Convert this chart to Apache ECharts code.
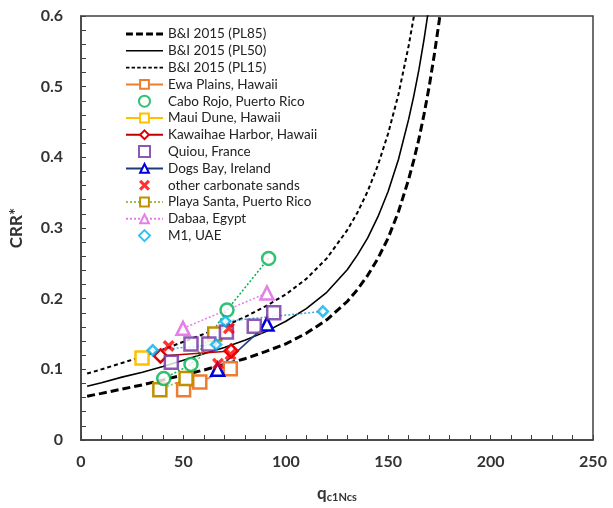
<!DOCTYPE html>
<html>
<head>
<meta charset="utf-8">
<style>
  html, body { margin: 0; padding: 0; background: #fff; }
  #chart { width: 613px; height: 508px; }
</style>
<script src="https://cdn.jsdelivr.net/npm/echarts@6/dist/echarts.min.js"></script>
</head>
<body>
<div id="chart"></div>
<script>
// Boulanger & Idriss (2015) triggering curves, CRR* versus qc1Ncs
const curveQ = [3, 10, 20, 30, 40, 50, 60, 70, 80, 90, 100, 110, 120, 130, 135, 140, 145, 150, 155, 160, 162.5, 165, 167.5, 170, 172.5, 175, 180];
const pl85 = [0.062, 0.066, 0.072, 0.078, 0.085, 0.092, 0.099, 0.107, 0.115, 0.125, 0.136, 0.151, 0.170, 0.196, 0.213, 0.233, 0.257, 0.286, 0.323, 0.369, 0.396, 0.426, 0.461, 0.500, 0.545, 0.595, 0.721];
const pl50 = [0.076, 0.081, 0.089, 0.096, 0.104, 0.113, 0.122, 0.131, 0.141, 0.153, 0.168, 0.186, 0.209, 0.241, 0.262, 0.286, 0.316, 0.352, 0.397, 0.454, 0.487, 0.524, 0.567, 0.615, 0.670, 0.732, 0.887];
const pl15 = [0.094, 0.100, 0.109, 0.118, 0.128, 0.139, 0.150, 0.161, 0.174, 0.189, 0.206, 0.228, 0.257, 0.297, 0.322, 0.352, 0.389, 0.434, 0.489, 0.558, 0.599, 0.645, 0.698, 0.757, 0.824, 0.901, 1.091];

// Test results by site
const ewaQ = [50.1, 58.0, 72.9];
const ewaCRR = [0.071, 0.082, 0.101];
const caboQ = [40.4, 53.7, 71.3, 91.6];
const caboCRR = [0.087, 0.107, 0.184, 0.257];
const mauiQ = [29.8];
const mauiCRR = [0.116];
const kawQ = [38.8, 73.3];
const kawCRR = [0.119, 0.126];
const quiouQ = [44.1, 53.7, 62.4, 71.0, 84.6, 94.1];
const quiouCRR = [0.110, 0.136, 0.136, 0.153, 0.161, 0.180];
const dogsQ = [66.7, 90.8];
const dogsCRR = [0.100, 0.164];
const otherQ = [42.8, 72.2, 66.9, 73.0];
const otherCRR = [0.133, 0.158, 0.108, 0.121];
const playaQ = [38.5, 51.3, 65.3];
const playaCRR = [0.071, 0.087, 0.150];
const dabaaQ = [49.8, 90.8];
const dabaaCRR = [0.158, 0.208];
const m1Q = [35.0, 66.0, 70.5, 118.1];
const m1CRR = [0.127, 0.135, 0.168, 0.182];

// Axis ticks
const xTicks = [0, 50, 100, 150, 200, 250];
const yTicks = [0, 0.1, 0.2, 0.3, 0.4, 0.5, 0.6];

const pairs = (xs, ys) => xs.map((x, i) => [x, ys[i]]);

const FONT = 'Lato';
const crossPath = 'path://M2,0 L5,3 L8,0 L10,2 L7,5 L10,8 L8,10 L5,7 L2,10 L0,8 L3,5 L0,2 Z';

// legend glyphs: dashed strokes drawn as strips of small bars
function dashIcon(dash, gap, thick, count) {
  let d = '';
  for (let i = 0; i < count; i++) {
    const x = i * (dash + gap);
    d += `M${x},0h${dash}v${thick}h${-dash}Z`;
  }
  return 'path://' + d;
}
const iconPL85 = dashIcon(7, 3.2, 3, 4);
const iconPL50 = 'path://M0,0h39v1.6h-39Z';
const iconPL15 = dashIcon(3.6, 2.2, 2, 7);
const iconSquare = 'path://M0,0h10v10h-10Z';
const iconDiamond = 'path://M5,0L10,5L5,10L0,5Z';

function curve(name, ys, width, dash) {
  return {
    name, type: 'line', data: pairs(curveQ, ys), symbol: 'none', clip: true,
    lineStyle: { color: '#000', width, type: dash },
    itemStyle: { color: '#000' }, z: 2, silent: true
  };
}

function siteLine(name, xs, ys, color, symbol, size, lineType, lineColor) {
  return {
    name, type: 'line', data: pairs(xs, ys), symbol, symbolSize: size,
    showAllSymbol: true,
    lineStyle: { color: lineColor || color, width: 1.5, type: lineType },
    itemStyle: { color: '#fff', borderColor: color, borderWidth: 2.5 },
    z: 5
  };
}

function siteMarks(name, xs, ys, color, symbol, size, filled) {
  return {
    name, type: 'scatter', data: pairs(xs, ys), symbol, symbolSize: size,
    itemStyle: filled ? { color } : { color: '#fff', borderColor: color, borderWidth: 2.5 },
    z: 6
  };
}

function trend(xs, ys, color) {
  return {
    name: '_trend', type: 'line', data: pairs(xs, ys), symbol: 'none',
    lineStyle: { color, width: 1.5, type: [2, 2] }, z: 4, silent: true
  };
}

const chart = echarts.init(document.getElementById('chart'), null, { renderer: 'canvas' });
chart.setOption({
  animation: false,
  textStyle: { fontFamily: FONT },
  grid: {
    left: 80, right: 20, top: 16, bottom: 68,
    show: true, borderColor: '#404040', borderWidth: 1.5, backgroundColor: 'transparent'
  },
  legend: {
    orient: 'vertical', left: 120, top: 22,
    itemWidth: 37, itemHeight: 11, itemGap: 2.8,
    symbolKeepAspect: true,
    textStyle: { fontFamily: FONT, fontSize: 13.5, lineHeight: 13, color: '#222' },
    data: [
      { name: 'B&I 2015 (PL85)', icon: iconPL85 },
      { name: 'B&I 2015 (PL50)', icon: iconPL50 },
      { name: 'B&I 2015 (PL15)', icon: iconPL15 },
      'Ewa Plains, Hawaii',
      { name: 'Cabo Rojo, Puerto Rico', icon: 'circle' },
      'Maui Dune, Hawaii',
      'Kawaihae Harbor, Hawaii',
      { name: 'Quiou, France', icon: iconSquare },
      'Dogs Bay, Ireland',
      { name: 'other carbonate sands', icon: crossPath },
      'Playa Santa, Puerto Rico', 'Dabaa, Egypt',
      { name: 'M1, UAE', icon: iconDiamond }
    ]
  },
  xAxis: {
    type: 'value', min: xTicks[0], max: xTicks[xTicks.length - 1], interval: 50,
    name: '{q|q}{s|c1Ncs}', nameLocation: 'middle', nameGap: 44,
    nameTextStyle: {
      rich: {
        q: { fontFamily: FONT, fontSize: 17, fontWeight: 'bold', color: '#333' },
        s: { fontFamily: FONT, fontSize: 11, fontWeight: 'bold', color: '#333', padding: [8, 0, 0, 0] }
      }
    },
    axisLine: { lineStyle: { color: '#404040', width: 1.5 } },
    axisTick: { inside: true, length: 5, lineStyle: { color: '#404040' } },
    minorTick: { show: true, splitNumber: 5, length: 5, lineStyle: { color: '#404040' } },
    axisLabel: { margin: 14, fontFamily: FONT, fontSize: 16, fontWeight: 'bold', color: '#333' },
    splitLine: { show: false }
  },
  yAxis: {
    type: 'value', min: yTicks[0], max: yTicks[yTicks.length - 1], interval: 0.1,
    name: 'CRR*', nameLocation: 'middle', nameGap: 56,
    nameTextStyle: { fontFamily: FONT, fontSize: 17, fontWeight: 'bold', color: '#333' },
    axisLine: { lineStyle: { color: '#404040', width: 1.5 } },
    axisTick: { inside: true, length: 5, lineStyle: { color: '#404040' } },
    minorTick: { show: true, splitNumber: 5, length: 5, lineStyle: { color: '#404040' } },
    axisLabel: {
      margin: 18, fontFamily: FONT, fontSize: 16, fontWeight: 'bold', color: '#333',
      formatter: v => (v === 0 ? '0' : v.toFixed(1))
    },
    splitLine: { show: false }
  },
  series: [
    curve('B&I 2015 (PL85)', pl85, 3, [8, 4]),
    curve('B&I 2015 (PL50)', pl50, 1.6, 'solid'),
    curve('B&I 2015 (PL15)', pl15, 2, [4, 3]),
    trend(caboQ, caboCRR, '#00B050'),
    trend(m1Q, m1CRR, '#3FA7D6'),
    siteLine('Ewa Plains, Hawaii', ewaQ, ewaCRR, '#ED7D31', 'rect', 13, 'solid'),
    siteMarks('Cabo Rojo, Puerto Rico', caboQ, caboCRR, '#00B050', 'circle', 13, false),
    siteLine('Maui Dune, Hawaii', mauiQ, mauiCRR, '#FFC000', 'rect', 13, 'solid'),
    siteLine('Kawaihae Harbor, Hawaii', kawQ, kawCRR, '#E00000', 'diamond', 13, 'solid', '#C00000'),
    siteMarks('Quiou, France', quiouQ, quiouCRR, '#7030A0', 'rect', 13, false),
    siteLine('Dogs Bay, Ireland', dogsQ, dogsCRR, '#0000DD', 'triangle', 13, 'solid', '#1F3C7A'),
    siteMarks('other carbonate sands', otherQ, otherCRR, '#FF0000', crossPath, 12, true),
    siteLine('Playa Santa, Puerto Rico', playaQ, playaCRR, '#BF9000', 'rect', 13, [2, 2], '#9BBB59'),
    siteLine('Dabaa, Egypt', dabaaQ, dabaaCRR, '#E57FE8', 'triangle', 13, [2, 2]),
    siteMarks('M1, UAE', m1Q, m1CRR, '#00B0F0', 'diamond', 10, false)
  ]
});
</script>
</body>
</html>
